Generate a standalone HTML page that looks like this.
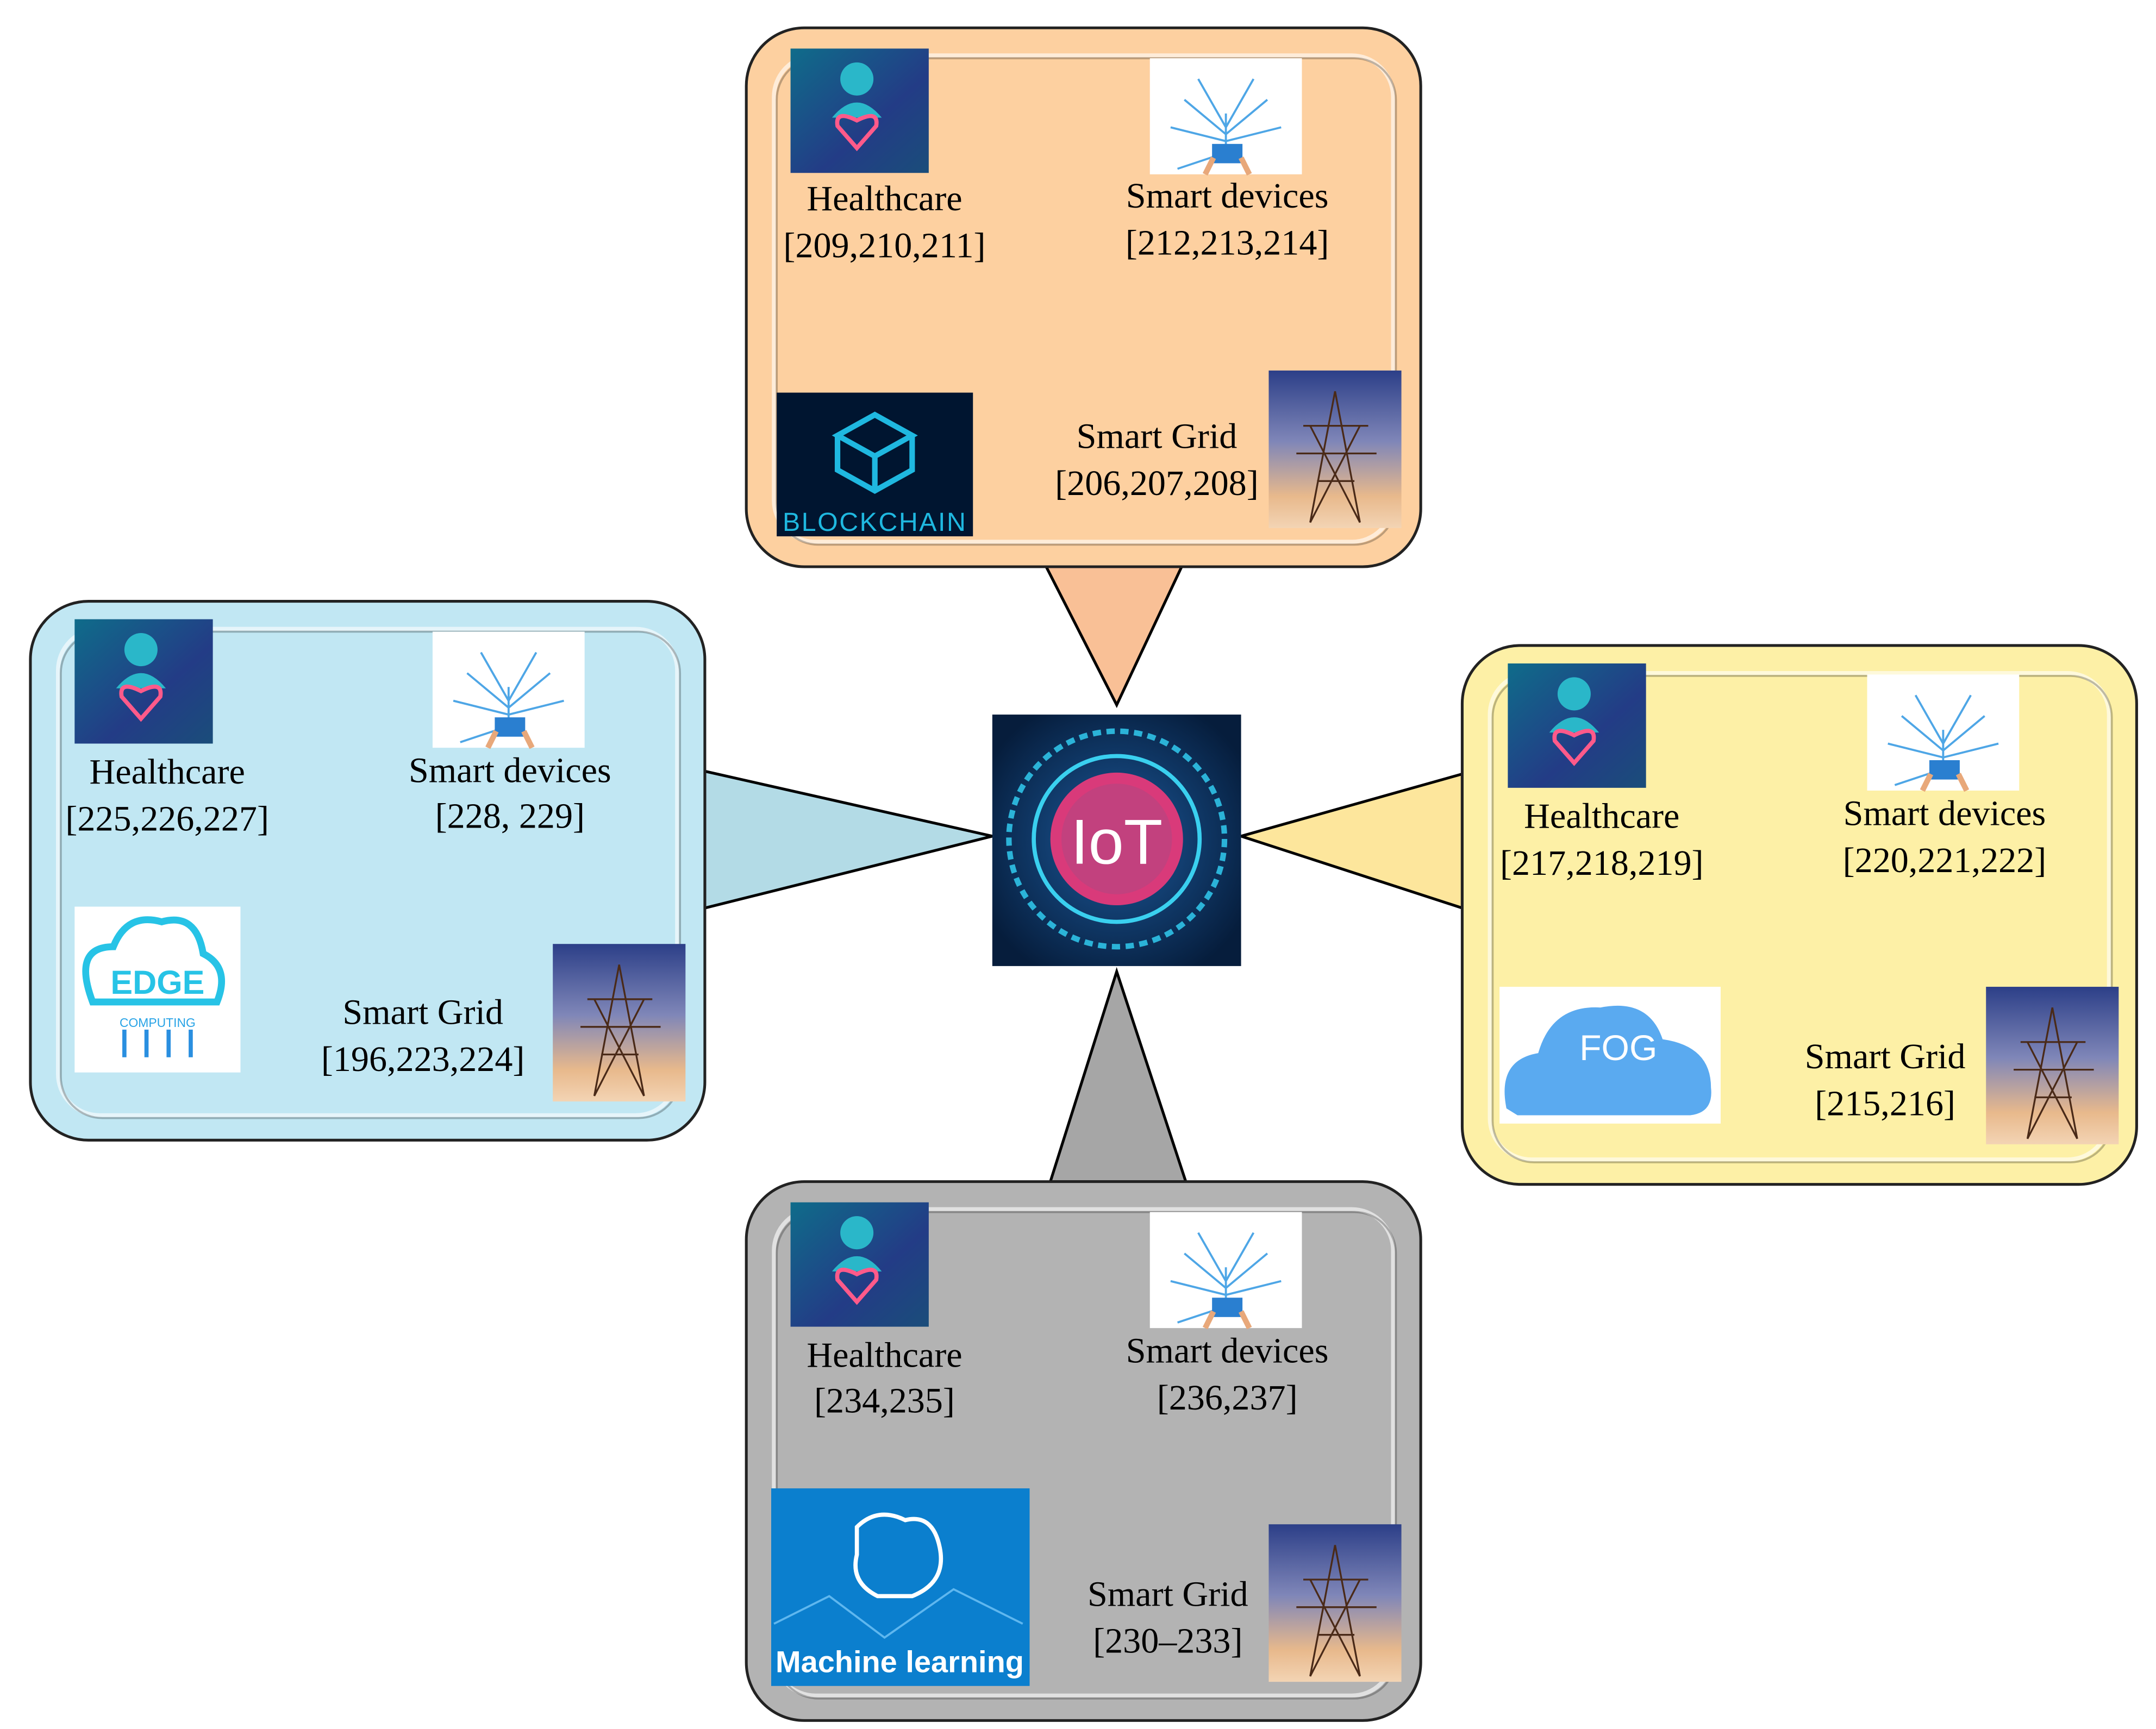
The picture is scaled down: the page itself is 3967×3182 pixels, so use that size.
<!DOCTYPE html>
<html><head><meta charset="utf-8"><style>html,body{margin:0;padding:0;background:#fff}svg{display:block}text{font-family:"Liberation Serif",serif;font-size:26px;fill:#000;text-anchor:middle}</style></head>
<body>
<svg width="3967" height="3182" viewBox="0 0 1560 1251" xmlns="http://www.w3.org/2000/svg">
<defs>
<linearGradient id="grid" x1="0" y1="0" x2="0" y2="1"><stop offset="0" stop-color="#2c3f88"/><stop offset="0.45" stop-color="#7f86b8"/><stop offset="0.8" stop-color="#e8b98c"/><stop offset="1" stop-color="#f3d4b4"/></linearGradient>
<linearGradient id="hc" x1="0" y1="0" x2="1" y2="1"><stop offset="0" stop-color="#0f6c8a"/><stop offset="0.6" stop-color="#233c86"/><stop offset="1" stop-color="#1a4d7a"/></linearGradient>
<radialGradient id="iot" cx="0.5" cy="0.5" r="0.6"><stop offset="0" stop-color="#1c5a9c"/><stop offset="1" stop-color="#061d3c"/></radialGradient>
<g id="hcimg"><rect width="100" height="90" fill="url(#hc)"/><circle cx="48" cy="22" r="12" fill="#2ab7c9"/><path d="M30 50 Q48 28 66 50 Z" fill="#2ab7c9"/><path d="M48 72 L34 56 Q32 44 48 52 Q64 44 62 56 Z" fill="none" stroke="#ff5a8a" stroke-width="3"/></g>
<g id="sdimg"><rect width="110" height="84" fill="#fff"/><path d="M55 70 L55 40 M55 55 L25 30 M55 55 L85 30 M55 50 L35 15 M55 50 L75 15 M55 60 L15 50 M55 60 L95 50 M20 80 L50 70" stroke="#4ea6e6" stroke-width="1.5" fill="none"/><rect x="45" y="62" width="22" height="14" fill="#2a7fd0"/><path d="M40 84 L46 72 M72 84 L66 72" stroke="#e8a87a" stroke-width="4"/></g>
<g id="gridimg"><rect width="96" height="114" fill="url(#grid)"/><path d="M48 15 L30 110 M48 15 L66 110 M25 40 L72 40 M20 60 L78 60 M35 80 L62 80 M30 110 L66 40 M66 110 L30 40" stroke="#4a2a18" stroke-width="1.3" fill="none"/></g>
<g id="box"><rect x="0" y="0" width="488" height="390" rx="42" stroke="#222" stroke-width="2"/><rect x="20" y="20" width="448" height="352" rx="30" fill="none" stroke="#fff" stroke-opacity="0.6" stroke-width="3"/><rect x="22" y="22" width="448" height="352" rx="30" fill="none" stroke="#000" stroke-opacity="0.25" stroke-width="1.5"/></g>
</defs>

<!-- triangles -->
<polygon points="757,410 855,410 808,510" fill="#f9c096" stroke="#000" stroke-width="2"/>
<polygon points="510,558 510,657 718,605" fill="#b3dbe6" stroke="#000" stroke-width="2"/>
<polygon points="1058,560 1058,657 898,605" fill="#fde69c" stroke="#000" stroke-width="2"/>
<polygon points="760,855 858,855 808,703" fill="#a6a6a6" stroke="#000" stroke-width="2"/>

<!-- IoT -->
<rect x="718" y="517" width="180" height="182" fill="url(#iot)"/>
<circle cx="808" cy="607" r="78" fill="none" stroke="#2bb3d8" stroke-width="4" stroke-dasharray="6 4"/>
<circle cx="808" cy="607" r="60" fill="none" stroke="#3ad0ef" stroke-width="3"/>
<circle cx="808" cy="607" r="48" fill="#d93a7a"/>
<circle cx="808" cy="607" r="40" fill="#c2417e"/>
<text x="808" y="625" style="font-family:'Liberation Sans',sans-serif;font-size:46px;fill:#fff">IoT</text>

<!-- Top -->
<g transform="translate(540,20)" fill="#fdd0a0">
<use href="#box"/>
<use href="#hcimg" x="32" y="15"/><use href="#sdimg" x="292" y="22"/>
<rect x="22" y="264" width="142" height="104" fill="#001530"/>
<path d="M93 280 L120 295 L93 310 L66 295 Z M66 295 L66 320 L93 335 L120 320 L120 295 M93 310 L93 335" fill="none" stroke="#1fb8e0" stroke-width="4"/>
<text x="93" y="364" style="font-family:'Liberation Sans',sans-serif;font-size:19px;fill:#1fb8e0;letter-spacing:1px">BLOCKCHAIN</text>
<use href="#gridimg" x="378" y="248"/>
<text x="100" y="132">Healthcare</text><text x="100" y="166">[209,210,211]</text>
<text x="348" y="130">Smart devices</text><text x="348" y="164">[212,213,214]</text>
<text x="297" y="304">Smart Grid</text><text x="297" y="338">[206,207,208]</text>
</g>

<!-- Left -->
<g transform="translate(22,435)" fill="#c1e7f3">
<use href="#box"/>
<use href="#hcimg" x="32" y="13"/><use href="#sdimg" x="291" y="22"/>
<rect x="32" y="221" width="120" height="120" fill="#fff"/>
<path d="M45 290 Q30 250 60 250 Q70 225 95 232 Q120 225 125 255 Q145 265 135 290 Z" fill="none" stroke="#27c3e6" stroke-width="5"/>
<text x="92" y="284" style="font-family:'Liberation Sans',sans-serif;font-size:24px;font-weight:bold;fill:#27c3e6">EDGE</text>
<text x="92" y="308" style="font-family:'Liberation Sans',sans-serif;font-size:9px;fill:#27a3e6">COMPUTING</text>
<path d="M68 310 L68 330 M84 310 L84 330 M100 310 L100 330 M116 310 L116 330" stroke="#2a8fe0" stroke-width="3"/>
<use href="#gridimg" x="378" y="248"/>
<text x="99" y="132">Healthcare</text><text x="99" y="166">[225,226,227]</text>
<text x="347" y="131">Smart devices</text><text x="347" y="164">[228, 229]</text>
<text x="284" y="306">Smart Grid</text><text x="284" y="340">[196,223,224]</text>
</g>

<!-- Right -->
<g transform="translate(1058,467)" fill="#fdf0a6">
<use href="#box"/>
<use href="#hcimg" x="33" y="13"/><use href="#sdimg" x="293" y="21"/>
<rect x="27" y="247" width="160" height="99" fill="#fff"/>
<path d="M32 335 Q25 300 55 295 Q65 260 100 262 Q135 255 145 285 Q180 290 180 320 Q182 338 165 340 L40 340 Z" fill="#5aaaf0"/>
<text x="113" y="300" style="font-family:'Liberation Sans',sans-serif;font-size:26px;fill:#fff">FOG</text>
<use href="#gridimg" x="379" y="247"/>
<text x="101" y="132">Healthcare</text><text x="101" y="166">[217,218,219]</text>
<text x="349" y="130">Smart devices</text><text x="349" y="164">[220,221,222]</text>
<text x="306" y="306">Smart Grid</text><text x="306" y="340">[215,216]</text>
</g>

<!-- Bottom -->
<g transform="translate(540,855)" fill="#b3b3b3">
<use href="#box"/>
<use href="#hcimg" x="32" y="15"/><use href="#sdimg" x="292" y="22"/>
<rect x="18" y="222" width="187" height="143" fill="#0b7fce"/>
<path d="M80 250 Q95 235 115 245 Q135 240 140 265 Q145 290 120 300 L95 300 Q75 290 80 270 Z" fill="none" stroke="#fff" stroke-width="3"/>
<path d="M20 320 L60 300 L100 330 L150 295 L200 320" fill="none" stroke="#5fb7ef" stroke-width="1.5"/>
<text x="111" y="355" style="font-family:'Liberation Sans',sans-serif;font-size:22px;font-weight:bold;fill:#fff">Machine learning</text>
<use href="#gridimg" x="378" y="248"/>
<text x="100" y="134">Healthcare</text><text x="100" y="167">[234,235]</text>
<text x="348" y="131">Smart devices</text><text x="348" y="165">[236,237]</text>
<text x="305" y="307">Smart Grid</text><text x="305" y="341">[230–233]</text>
</g>
</svg>
</body></html>
